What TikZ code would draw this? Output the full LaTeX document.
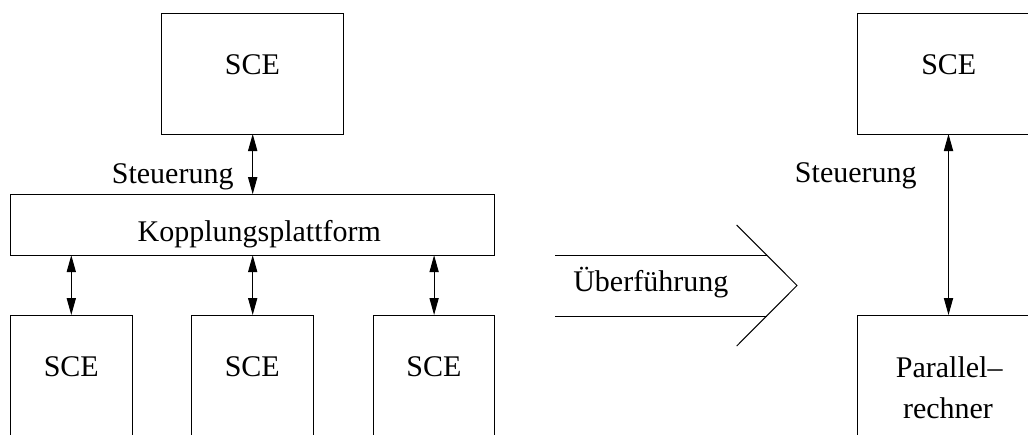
\documentclass[tikz,border=0pt]{standalone}
\usepackage{fontspec}
\setmainfont{Liberation Serif}
\usetikzlibrary{arrows.meta}
\begin{document}
\begin{tikzpicture}[
  x=0.5pt, y=-0.5pt,
  line width=0.5pt,
  font=\fontsize{15}{18}\selectfont,
  box/.style={draw, rectangle, inner sep=0pt, outer sep=0pt},
  sce/.style={box, minimum width=90.75pt, minimum height=60.5pt},
  lower/.style={box, minimum width=60.75pt, minimum height=70pt},
  wide/.style={box, minimum width=91pt, minimum height=70pt},
  txt/.style={anchor=base, inner sep=0pt},
  link/.style={{Triangle[length=8.5pt,width=4.6pt]}-{Triangle[length=8.5pt,width=4.6pt]}}
]
\useasboundingbox (0,0) rectangle (1028,434);
\clip (0,0) rectangle (1028,434);

% left side: control unit, coupling platform and three units
\node[sce] (topL) at (252.7,73.5) {};
\node[box, minimum width=242pt, minimum height=30.5pt] (kp) at (252.7,224.7) {};
\node[lower] (b1) at (71.3,385) {};
\node[lower] (b2) at (252.7,385) {};
\node[lower] (b3) at (434.1,385) {};

\node[txt] (tTopL) at (252.5,74) {SCE};
\node[txt] (stL) at (172.7,183) {Steuerung};
\node[txt] (tKp) at (259.3,241.7) {Kopplungsplattform};
\node[txt] (tB1) at (71.3,376) {SCE};
\node[txt] (tB2) at (252.3,376) {SCE};
\node[txt] (tB3) at (434,376) {SCE};

\draw[link] (topL.south) -- (kp.north);
\draw[link] (kp.south -| b1.north) -- (b1.north);
\draw[link] (kp.south) -- (b2.north);
\draw[link] (kp.south -| b3.north) -- (b3.north);

% transition arrow
\coordinate (a1) at (555,255);
\coordinate (a2) at (766.7,255);
\coordinate (a3) at (555,316);
\coordinate (a4) at (766.7,316);
\coordinate (h1) at (736.7,225);
\coordinate (tip) at (797,285.5);
\coordinate (h2) at (736.7,346);
\draw (a1) -- (a2);
\draw (a3) -- (a4);
\draw (h1) -- (tip) -- (h2);
\node[txt] (tUe) at (650.8,291.7) {Überführung};

% right side: control unit and parallel computer
\node[sce] (topR) at (948.5,73.5) {};
\node[wide] (par) at (948.5,385) {};
\node[txt] (tTopR) at (948.8,74) {SCE};
\node[txt] (stR) at (855.8,182) {Steuerung};
\node[txt] (tPar1) at (949.2,377.5) {Parallel--};
\node[txt] (tPar2) at (948,418.5) {rechner};

\draw[link] (topR.south) -- (par.north);
\end{tikzpicture}
\end{document}
